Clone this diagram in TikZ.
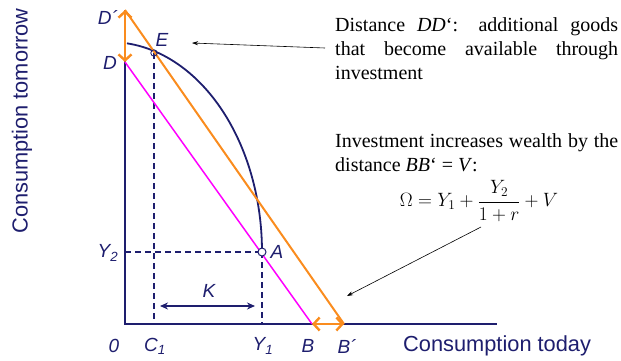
\documentclass[tikz,border=0pt]{standalone}
\usepackage{fontspec}
\setmainfont{Liberation Serif}
\setsansfont{Liberation Sans}
\usetikzlibrary{arrows.meta}
\definecolor{navy}{RGB}{30,30,110}
\definecolor{orng}{RGB}{250,140,30}
\definecolor{mag}{RGB}{255,0,255}
\newcommand{\nohyph}{\hyphenpenalty 10000 \exhyphenpenalty 10000 \uchyph 0 \lefthyphenmin 62 }
\begin{document}
\begin{tikzpicture}[x=1pt,y=-1pt,
  lbl/.style={font=\sffamily\itshape\fontsize{19}{21}\selectfont, text=navy, inner sep=0pt},
  axtitle/.style={font=\sffamily\fontsize{21.8}{24}\selectfont, text=navy, inner sep=0pt},
  note/.style={font=\fontsize{20}{24}\selectfont, text width=283pt, align=justify, inner sep=0pt, anchor=north west},
  axisline/.style={draw=navy, line width=2.4pt},
  guide/.style={draw=navy, line width=1.6pt, dash pattern=on 6pt off 4pt},
  oarrow/.style={draw=orng, line width=2.4pt, {Straight Barb[length=6pt,width=13pt,line width=2.4pt]}-{Straight Barb[length=6pt,width=13pt,line width=2.4pt]}},
  pointer/.style={draw=black, line width=0.6pt, -{Stealth[length=6pt,width=4pt]}}
]
\useasboundingbox (0,0) rectangle (621,360);
% key points
\coordinate (O) at (125,324);
\coordinate (Top) at (125,10);
\coordinate (Xend) at (497,324);
\coordinate (D) at (125,62);
\coordinate (Dp) at (125,10);
\coordinate (B) at (312,324);
\coordinate (Bp) at (344,324);
\coordinate (E) at (154,53);
\coordinate (A) at (262,252);
\coordinate (C1) at (154,324);
\coordinate (Y1) at (262,324);
\coordinate (Y2) at (125,252);
\coordinate (K1) at (160,306);
\coordinate (K2) at (255,306);
% dashed guides
\draw[guide] (E) -- (C1);
\draw[guide] (Y2) -- (A);
\draw[guide] (A) -- (Y1);
% axes
\draw[axisline] (Top) -- (O) -- (Xend);
% production curve
\draw[navy, line width=1.8pt] plot[domain=83.6:0, samples=60, smooth] ({110+152*cos(\x)},{252-210*sin(\x)});
% budget lines
\draw[mag, line width=1.5pt] (D) -- (B);
\draw[orng, line width=2pt] (Dp) -- (Bp);
% orange distance arrows
\draw[oarrow] (Dp) -- (D);
\draw[oarrow] (B) -- (Bp);
% K arrow
\draw[navy, line width=1.6pt, {Stealth[length=8pt,width=7pt]}-{Stealth[length=8pt,width=7pt]}] (K1) -- (K2);
% points
\draw[navy, line width=0.8pt] (E) circle (3.2pt);
\draw[navy, fill=white, line width=1pt] (A) circle (4pt);
% labels
\node[lbl] (lDp) at (108,17) {D´};
\node[lbl] (lE) at (162,40) {E};
\node[lbl] (lD) at (110,63) {D};
\node[lbl] (lY2) at (108,253) {Y\textsubscript{2}};
\node[lbl] (lA) at (277,252) {A};
\node[lbl] (lK) at (209,291) {K};
\node[lbl] (l0) at (114,346) {0};
\node[lbl] (lC1) at (155,346) {C\textsubscript{1}};
\node[lbl] (lY1) at (263,346) {Y\textsubscript{1}};
\node[lbl] (lB) at (308,346) {B};
\node[lbl] (lBp) at (347,346) {B´};
\node[axtitle, anchor=west] (xt) at (403,346) {Consumption today};
\node[axtitle, rotate=90] (yt) at (22,121) {Consumption tomorrow};
% notes
\node[note] (n1) at (335,17) {\nohyph Distance \textit{DD}‘: additional goods that become available through investment\par};
\node[note] (n2) at (335,133) {\nohyph Investment increases wealth by the distance \textit{BB}‘ = \textit{V}:\par};
\node[inner sep=0pt, scale=0.93, font=\fontsize{20}{24}\selectfont] (f) at (479,201) {$\displaystyle\Omega = Y_1 + \frac{Y_2}{1+r} + V$};
\coordinate (p1) at (192,43);
\coordinate (p1s) at (325,48);
\coordinate (p2) at (347,296);
\coordinate (p2s) at (481,227);
\draw[pointer] (p1s) -- (p1);
\draw[pointer] (p2s) -- (p2);
\end{tikzpicture}
\end{document}
